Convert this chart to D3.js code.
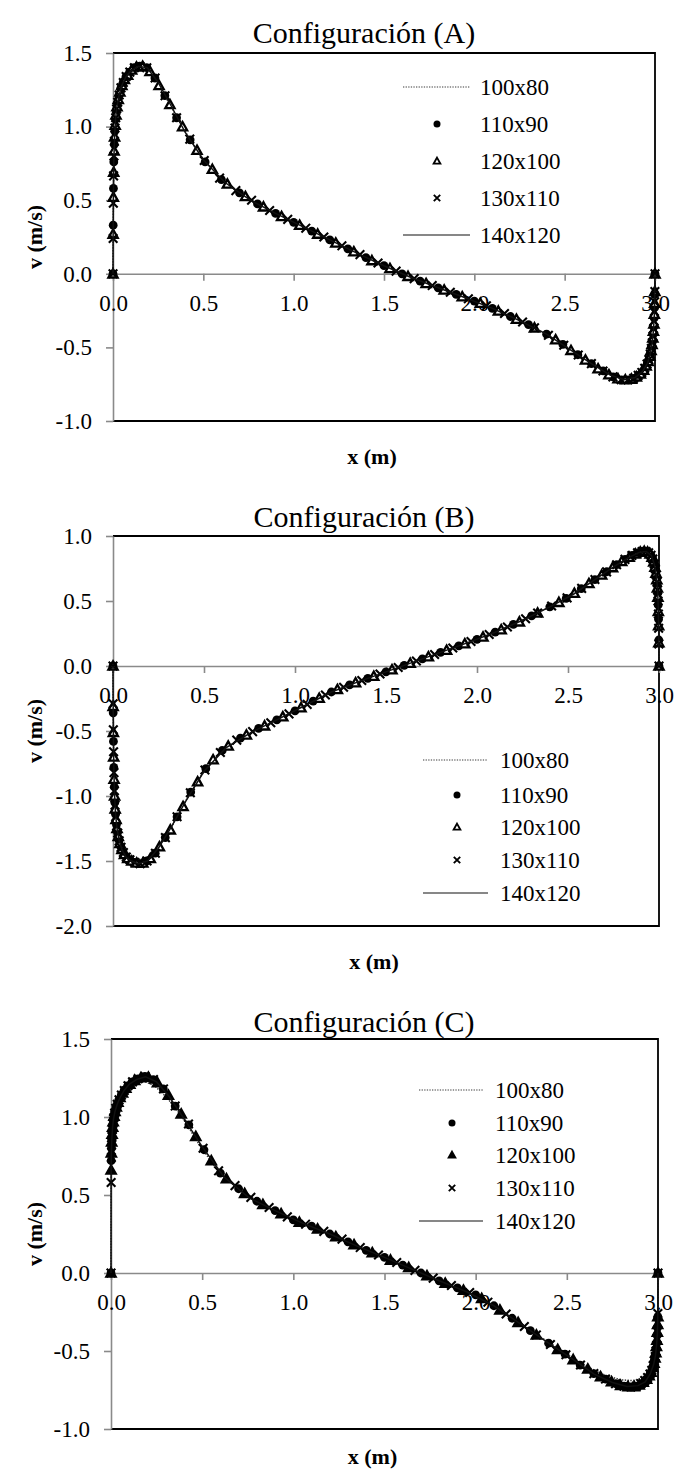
<!DOCTYPE html>
<html>
<head>
<meta charset="utf-8">
<script src="https://cdn.jsdelivr.net/npm/d3@7"></script>
<style>
  body { margin: 0; background: #fff; }
  svg { display: block; }
  text { font-family: "Liberation Serif", "Times New Roman", serif; fill: #000; }
</style>
</head>
<body>
<svg id="fig" width="676" height="1477"></svg>
<script>
// ---- mesh positions along x (m), one list per grid ----
const x100 = [0,0.001,0.003,0.006,0.011,0.018,0.028,0.042,0.062,0.09,0.13,0.18,0.24,0.31,0.39,0.48,0.58,0.7,0.85,1.0,1.15,1.3,1.45,1.6,1.75,1.9,2.05,2.2,2.35,2.5,2.62,2.72,2.8,2.86,2.91,2.94,2.962,2.976,2.986,2.992,2.996,2.999,3.0];
const x110 = [0,0.001,0.0025,0.0045,0.007,0.010,0.014,0.019,0.025,0.033,0.043,0.056,0.072,0.092,0.117,0.148,0.186,0.232,0.287,0.352,0.427,0.51,
  0.6,0.7,0.8,0.9,1.0,1.1,1.2,1.3,1.4,1.5,1.6,1.7,1.8,1.9,2.0,2.1,2.2,2.3,2.4,
  2.49,2.573,2.648,2.713,2.768,2.814,2.852,2.883,2.908,2.928,2.944,2.957,2.967,2.975,2.981,2.986,2.990,2.993,2.9955,2.9975,2.999,3.0];
const x120 = [0,0.0008,0.002,0.0037,0.006,0.0087,0.012,0.0165,0.022,0.029,0.038,0.049,0.063,0.081,0.103,0.130,0.164,0.205,0.255,0.315,0.385,0.465,
  0.55,0.633,0.733,0.833,0.933,1.033,1.133,1.233,1.333,1.433,1.533,1.633,1.733,1.833,1.933,2.033,2.133,2.233,2.333,2.45,
  2.535,2.615,2.685,2.745,2.795,2.836,2.870,2.897,2.919,2.937,2.951,2.962,2.971,2.978,2.9835,2.988,2.9913,2.994,2.9963,2.998,2.9992,3.0];
const x130 = [0,0.0007,0.0018,0.0033,0.0053,0.0078,0.011,0.015,0.020,0.026,0.034,0.044,0.057,0.073,0.093,0.118,0.149,0.187,0.233,0.288,0.352,0.425,0.505,
  0.59,0.68,0.767,0.867,0.967,1.067,1.167,1.267,1.367,1.467,1.567,1.667,1.767,1.867,1.967,2.067,2.167,2.267,2.333,2.41,
  2.495,2.575,2.648,2.712,2.767,2.813,2.851,2.882,2.907,2.927,2.943,2.956,2.966,2.974,2.980,2.985,2.989,2.9922,2.9947,2.9967,2.9982,2.9993,3.0];
const x140 = [0,0.0006,0.002,0.0045,0.0085,0.014,0.022,0.034,0.05,0.072,0.1,0.14,0.19,0.25,0.32,0.4,0.5,0.62,0.76,0.9,1.05,1.2,1.35,1.5,1.65,1.8,1.95,2.1,2.25,2.4,2.53,2.65,2.75,2.83,2.89,2.93,2.958,2.975,2.9855,2.9915,2.996,2.9985,3.0];

// ---- velocity v (m/s), configuration A ----
const vA100 = [0,0.31,0.62,0.82,0.98,1.09,1.17,1.245,1.31,1.355,1.39,1.39,1.31,1.16,0.985,0.81,0.665,0.55,0.44,0.35,0.26,0.17,0.083,0.0,-0.072,-0.14,-0.21,-0.29,-0.377,-0.487,-0.58,-0.655,-0.70,-0.71,-0.68,-0.635,-0.585,-0.525,-0.45,-0.38,-0.29,-0.13,0];
const vA110 = [0,0.33,0.58,0.76,0.88,0.97,1.05,1.11,1.16,1.21,1.26,1.30,1.34,1.37,1.40,1.41,1.40,1.33,1.21,1.06,0.91,0.76,
  0.64,0.55,0.475,0.41,0.35,0.29,0.23,0.17,0.11,0.055,0.0,-0.05,-0.095,-0.14,-0.185,-0.235,-0.29,-0.345,-0.41,
  -0.48,-0.55,-0.61,-0.66,-0.70,-0.72,-0.72,-0.71,-0.69,-0.67,-0.64,-0.61,-0.58,-0.54,-0.50,-0.46,-0.41,-0.36,-0.30,-0.23,-0.14,0];
const vA120 = [0,0.27,0.52,0.69,0.835,0.93,1.01,1.08,1.135,1.185,1.235,1.28,1.32,1.35,1.385,1.405,1.41,1.375,1.28,1.15,1.0,0.84,
  0.71,0.61,0.525,0.455,0.39,0.33,0.27,0.21,0.15,0.09,0.037,-0.017,-0.065,-0.11,-0.155,-0.2,-0.253,-0.308,-0.367,-0.448,
  -0.52,-0.585,-0.645,-0.685,-0.712,-0.72,-0.715,-0.70,-0.68,-0.655,-0.625,-0.595,-0.56,-0.52,-0.48,-0.435,-0.39,-0.34,-0.275,-0.2,-0.12,0];
const vA130 = [0,0.24,0.48,0.665,0.80,0.90,0.99,1.06,1.12,1.165,1.215,1.263,1.30,1.34,1.37,1.40,1.41,1.40,1.33,1.21,1.06,0.915,0.77,
  0.65,0.565,0.50,0.43,0.37,0.31,0.25,0.19,0.13,0.073,0.018,-0.033,-0.08,-0.125,-0.17,-0.218,-0.27,-0.327,-0.367,-0.418,
  -0.485,-0.552,-0.61,-0.66,-0.70,-0.72,-0.72,-0.71,-0.69,-0.67,-0.642,-0.613,-0.583,-0.545,-0.507,-0.468,-0.425,-0.373,-0.32,-0.255,-0.19,-0.12,0];
const vA140 = [0,0.21,0.52,0.76,0.925,1.05,1.14,1.215,1.285,1.34,1.38,1.41,1.40,1.30,1.145,0.96,0.775,0.62,0.50,0.41,0.32,0.23,0.14,0.055,-0.025,-0.095,-0.163,-0.235,-0.318,-0.41,-0.515,-0.612,-0.687,-0.72,-0.705,-0.665,-0.608,-0.54,-0.46,-0.38,-0.29,-0.18,0];

// ---- velocity v (m/s), configuration B ----
const vB100 = [0,-0.34,-0.62,-0.85,-1.05,-1.18,-1.28,-1.365,-1.425,-1.47,-1.49,-1.48,-1.41,-1.27,-1.06,-0.85,-0.68,-0.555,-0.45,-0.345,-0.235,-0.145,-0.07,0.005,0.08,0.155,0.232,0.32,0.42,0.527,0.64,0.73,0.80,0.845,0.862,0.85,0.82,0.765,0.68,0.59,0.46,0.2,0];
const vB110 = [0,-0.36,-0.58,-0.78,-0.93,-1.05,-1.14,-1.22,-1.28,-1.34,-1.39,-1.43,-1.47,-1.49,-1.51,-1.52,-1.50,-1.44,-1.32,-1.16,-0.97,-0.79,
  -0.65,-0.555,-0.48,-0.415,-0.345,-0.27,-0.2,-0.145,-0.095,-0.045,0.005,0.055,0.105,0.155,0.205,0.26,0.32,0.385,0.455,
  0.52,0.595,0.665,0.725,0.78,0.82,0.85,0.87,0.88,0.88,0.87,0.85,0.82,0.78,0.74,0.69,0.63,0.56,0.47,0.36,0.2,0];
const vB120 = [0,-0.31,-0.51,-0.70,-0.87,-1.00,-1.10,-1.18,-1.25,-1.31,-1.365,-1.41,-1.45,-1.48,-1.50,-1.515,-1.515,-1.48,-1.39,-1.26,-1.08,-0.89,
  -0.72,-0.615,-0.53,-0.46,-0.39,-0.32,-0.247,-0.18,-0.128,-0.078,-0.028,0.022,0.072,0.122,0.172,0.223,0.28,0.34,0.408,0.49,
  0.56,0.635,0.70,0.757,0.805,0.837,0.862,0.877,0.882,0.877,0.862,0.838,0.80,0.76,0.715,0.665,0.60,0.53,0.42,0.31,0.18,0];
const vB130 = [0,-0.29,-0.49,-0.66,-0.82,-0.96,-1.07,-1.16,-1.23,-1.285,-1.345,-1.395,-1.435,-1.47,-1.49,-1.51,-1.52,-1.50,-1.44,-1.32,-1.16,-0.975,-0.80,
  -0.665,-0.57,-0.505,-0.437,-0.368,-0.295,-0.223,-0.163,-0.112,-0.062,-0.012,0.038,0.088,0.138,0.188,0.242,0.30,0.363,0.408,0.462,
  0.524,0.597,0.665,0.724,0.779,0.82,0.85,0.87,0.88,0.88,0.871,0.852,0.823,0.785,0.748,0.70,0.645,0.585,0.50,0.40,0.29,0.17,0];
const vB140 = [0,-0.23,-0.51,-0.78,-0.99,-1.14,-1.25,-1.345,-1.415,-1.47,-1.50,-1.52,-1.50,-1.40,-1.24,-1.04,-0.81,-0.63,-0.51,-0.415,-0.308,-0.20,-0.12,-0.045,0.03,0.105,0.18,0.26,0.352,0.455,0.552,0.667,0.762,0.832,0.873,0.88,0.85,0.78,0.695,0.605,0.45,0.26,0];

// ---- velocity v (m/s), configuration C ----
const vC100 = [0,0.70,0.81,0.88,0.95,1.0,1.045,1.09,1.135,1.175,1.21,1.23,1.20,1.12,1.0,0.83,0.665,0.54,0.43,0.34,0.275,0.2,0.122,0.05,-0.025,-0.095,-0.175,-0.285,-0.405,-0.52,-0.605,-0.66,-0.685,-0.69,-0.675,-0.65,-0.62,-0.58,-0.53,-0.47,-0.39,-0.28,0];
const vC110 = [0,0.72,0.80,0.86,0.91,0.95,0.99,1.02,1.05,1.08,1.11,1.14,1.17,1.20,1.225,1.245,1.26,1.24,1.18,1.07,0.95,0.79,
  0.64,0.54,0.46,0.40,0.34,0.30,0.25,0.2,0.145,0.1,0.05,0.0,-0.05,-0.095,-0.14,-0.21,-0.29,-0.37,-0.45,
  -0.52,-0.59,-0.645,-0.68,-0.71,-0.725,-0.73,-0.725,-0.71,-0.69,-0.67,-0.645,-0.62,-0.59,-0.56,-0.53,-0.49,-0.45,-0.40,-0.35,-0.28,0];
const vC120 = [0,0.66,0.77,0.84,0.89,0.935,0.97,1.005,1.035,1.065,1.095,1.125,1.155,1.185,1.21,1.235,1.252,1.255,1.22,1.14,1.02,0.875,
  0.72,0.605,0.51,0.44,0.38,0.326,0.283,0.233,0.182,0.13,0.083,0.035,-0.017,-0.065,-0.11,-0.163,-0.237,-0.317,-0.397,-0.49,
  -0.555,-0.615,-0.665,-0.697,-0.72,-0.728,-0.728,-0.718,-0.70,-0.68,-0.658,-0.635,-0.605,-0.578,-0.545,-0.51,-0.47,-0.43,-0.38,-0.33,-0.28,0];
const vC130 = [0,0.58,0.74,0.82,0.875,0.92,0.96,0.995,1.025,1.055,1.082,1.11,1.14,1.17,1.20,1.225,1.245,1.26,1.24,1.18,1.07,0.955,0.80,
  0.655,0.56,0.485,0.42,0.36,0.313,0.267,0.217,0.163,0.115,0.067,0.017,-0.033,-0.08,-0.125,-0.187,-0.263,-0.343,-0.397,-0.458,
  -0.524,-0.59,-0.645,-0.68,-0.71,-0.725,-0.73,-0.725,-0.71,-0.69,-0.67,-0.648,-0.623,-0.594,-0.565,-0.535,-0.50,-0.465,-0.42,-0.37,-0.32,-0.26,0];
const vC140 = [0,0.62,0.77,0.855,0.935,0.99,1.035,1.082,1.125,1.17,1.21,1.24,1.258,1.225,1.13,0.99,0.81,0.615,0.48,0.40,0.32,0.25,0.172,0.1,0.025,-0.05,-0.12,-0.21,-0.33,-0.45,-0.55,-0.648,-0.702,-0.728,-0.722,-0.698,-0.645,-0.59,-0.535,-0.47,-0.4,-0.3,0];

// ---- labels and ticks ----
const meshNames = ["100x80", "110x90", "120x100", "130x110", "140x120"];
const meshGrids = [x100, x110, x120, x130, x140];
const xTicks = [0, 0.5, 1.0, 1.5, 2.0, 2.5, 3.0];
const yTicksA = [-1.0, -0.5, 0.0, 0.5, 1.0, 1.5];
const yTicksB = [-2.0, -1.5, -1.0, -0.5, 0.0, 0.5, 1.0];
const yTicksC = [-1.0, -0.5, 0.0, 0.5, 1.0, 1.5];
const titles = ["Configuración (A)", "Configuración (B)", "Configuración (C)"];
const xTitle = "x (m)";
const yTitle = "v (m/s)";

// ---- panel layout ----
const panels = [
  { title: titles[0], yDomain: [-1, 1.5], yTicks: yTicksA, vals: [vA100, vA110, vA120, vA130, vA140],
    box: { l: 113, r: 655, t: 53, b: 421 }, titleY: 43, xTitleY: 464,
    legend: { x0: 403, x1: 470, xm: 437, xt: 480, ys: [87, 124, 161, 198, 235] }, triFill: "#fff" },
  { title: titles[1], yDomain: [-2, 1], yTicks: yTicksB, vals: [vB100, vB110, vB120, vB130, vB140],
    box: { l: 113, r: 659, t: 536, b: 926 }, titleY: 527, xTitleY: 969,
    legend: { x0: 423, x1: 488, xm: 457, xt: 500, ys: [760, 795, 827, 860, 893] }, triFill: "#fff" },
  { title: titles[2], yDomain: [-1, 1.5], yTicks: yTicksC, vals: [vC100, vC110, vC120, vC130, vC140],
    box: { l: 111, r: 658, t: 1039, b: 1429 }, titleY: 1032, xTitleY: 1464,
    legend: { x0: 419, x1: 483, xm: 452, xt: 495, ys: [1090, 1123, 1155, 1188, 1221] }, triFill: "#000" }
];

const fmt = d3.formatLocale({ decimal: ".", thousands: ",", grouping: [3], currency: ["", ""], minus: "-" }).format(".1f");
const axisGray = "#8a8a8a";
const svg = d3.select("#fig");

// marker painters
function drawCircle(g, cx, cy, r) {
  g.append("circle").attr("cx", cx).attr("cy", cy).attr("r", r).attr("fill", "#000");
}
function drawTriangle(g, cx, cy, fill, s, w) {
  g.append("path")
    .attr("d", `M${cx},${cy - s}L${cx + s},${cy + s * 0.8}L${cx - s},${cy + s * 0.8}Z`)
    .attr("fill", fill).attr("stroke", "#000").attr("stroke-width", w);
}
function drawCross(g, cx, cy, s, w) {
  g.append("path")
    .attr("d", `M${cx - s},${cy - s}L${cx + s},${cy + s}M${cx - s},${cy + s}L${cx + s},${cy - s}`)
    .attr("stroke", "#000").attr("stroke-width", w).attr("fill", "none");
}

panels.forEach(p => {
  const { l, r, t, b } = p.box;
  const x = d3.scaleLinear().domain([0, 3]).range([l, r]);
  const y = d3.scaleLinear().domain(p.yDomain).range([b, t]);
  const g = svg.append("g");

  // plot-area frame (top, right, bottom)
  g.append("path")
    .attr("d", `M${l},${t}H${r}V${b}H${l}`)
    .attr("fill", "none").attr("stroke", "#000").attr("stroke-width", 1.8);

  // y axis
  const ya = g.append("g").attr("transform", `translate(${l},0)`)
    .call(d3.axisLeft(y).tickValues(p.yTicks).tickFormat(fmt).tickSize(7).tickSizeOuter(0).tickPadding(14));
  ya.select(".domain").attr("stroke", axisGray).attr("stroke-width", 1.6);
  ya.selectAll(".tick line").attr("stroke", axisGray).attr("stroke-width", 1.6);
  ya.selectAll("text").attr("font-size", 23).attr("font-family", "Liberation Serif").attr("fill", "#000");

  // x axis crossing at v = 0
  const xa = g.append("g").attr("transform", `translate(0,${y(0)})`)
    .call(d3.axisBottom(x).tickValues(xTicks).tickFormat(fmt).tickSize(7).tickSizeOuter(0));
  xa.select(".domain").attr("stroke", axisGray).attr("stroke-width", 1.6);
  xa.selectAll(".tick line").attr("stroke", axisGray).attr("stroke-width", 1.6);
  xa.selectAll("text").attr("font-size", 23).attr("font-family", "Liberation Serif").attr("fill", "#000")
    .attr("y", 37).attr("dy", null);

  // series
  const line = d3.line().x(d => x(d[0])).y(d => y(d[1]));
  const pts = meshGrids.map((xs, i) => xs.map((xv, k) => [xv, p.vals[i][k]]));

  g.append("path").datum(pts[0]).attr("d", line)
    .attr("fill", "none").attr("stroke", "#3a3a3a").attr("stroke-width", 1.5).attr("stroke-dasharray", "1.4,1.4");

  const mg = g.append("g");
  pts[1].forEach(d => drawCircle(mg, x(d[0]), y(d[1]), 4.4));
  pts[2].forEach(d => drawTriangle(mg, x(d[0]), y(d[1]), p.triFill, 4.6, 2.3));
  pts[3].forEach(d => drawCross(mg, x(d[0]), y(d[1]), 4.3, 2.1));

  g.append("path").datum(pts[4]).attr("d", line)
    .attr("fill", "none").attr("stroke", "#111").attr("stroke-width", 1.5);

  // titles
  g.append("text").attr("x", 364).attr("y", p.titleY).attr("text-anchor", "middle")
    .attr("font-size", 30).text(p.title);
  g.append("text").attr("x", (l + r) / 2 - 12).attr("y", p.xTitleY).attr("text-anchor", "middle")
    .attr("font-size", 22).attr("font-weight", "bold").text(xTitle);
  g.append("text").attr("transform", `translate(42,${(t + b) / 2}) rotate(-90)`).attr("text-anchor", "middle")
    .attr("font-size", 22).attr("font-weight", "bold").text(yTitle);

  // legend
  const L = p.legend;
  const lg = g.append("g");
  meshNames.forEach((name, i) => {
    const cy = L.ys[i];
    if (i === 0) {
      lg.append("line").attr("x1", L.x0).attr("x2", L.x1).attr("y1", cy).attr("y2", cy)
        .attr("stroke", "#3a3a3a").attr("stroke-width", 1.2).attr("stroke-dasharray", "1.3,1.3");
    } else if (i === 4) {
      lg.append("line").attr("x1", L.x0).attr("x2", L.x1).attr("y1", cy).attr("y2", cy)
        .attr("stroke", "#111").attr("stroke-width", 1.2);
    } else if (i === 1) {
      drawCircle(lg, L.xm, cy, 3.5);
    } else if (i === 2) {
      drawTriangle(lg, L.xm, cy, p.triFill, 3.4, 1.8);
    } else {
      drawCross(lg, L.xm, cy, 3.2, 1.9);
    }
    lg.append("text").attr("x", L.xt).attr("y", cy + 7.5).attr("font-size", 23).text(name);
  });
});
</script>
</body>
</html>
